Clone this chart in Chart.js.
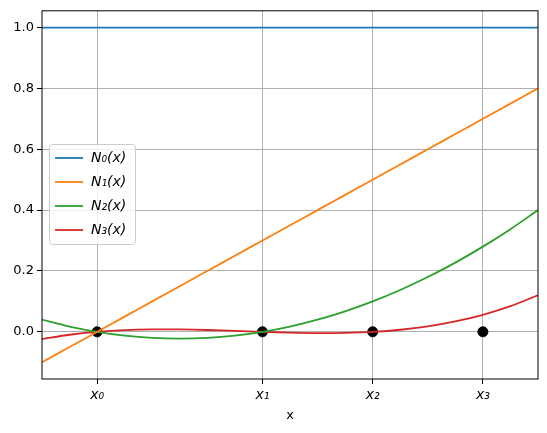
<!DOCTYPE html>
<html>
<head>
<script src="https://cdn.jsdelivr.net/npm/chart.js@4"></script>
<style>body{margin:0;background:#fff}#c{display:block}</style>
</head>
<body>
<canvas id="c" width="547" height="433"></canvas>
<script>
// Data
const xs = [-0.1,-0.05,0,0.05,0.1,0.15,0.2,0.25,0.3,0.35,0.4,0.45,0.5,0.55,0.6,0.65,0.7,0.75,0.8];
const n0 = [1,1,1,1,1,1,1,1,1,1,1,1,1,1,1,1,1,1,1];
const n1 = [-0.1,-0.05,0,0.05,0.1,0.15,0.2,0.25,0.3,0.35,0.4,0.45,0.5,0.55,0.6,0.65,0.7,0.75,0.8];
const n2 = [0.04,0.0175,0,-0.0125,-0.02,-0.0225,-0.02,-0.0125,0,0.0175,0.04,0.0675,0.1,0.1375,0.18,0.2275,0.28,0.3375,0.4];
const n3 = [-0.024,-0.009625,0,0.005625,0.008,0.007875,0.006,0.003125,0,-0.002625,-0.004,-0.003375,0,0.006875,0.018,0.034125,0.056,0.084375,0.12];
const nodes = [0, 0.3, 0.5, 0.7];
const nodeLabels = ['x₀', 'x₁', 'x₂', 'x₃'];
const seriesNames = ['N₀(x)', 'N₁(x)', 'N₂(x)', 'N₃(x)'];
const colors = ['#1f77b4', '#ff7f0e', '#2ca02c', '#d62728'];

const pts = arr => arr.map((y, i) => ({x: xs[i], y: y}));
const series = [n0, n1, n2, n3];

const datasets = series.map((s, i) => ({
    label: seriesNames[i], data: pts(s), borderColor: colors[i], borderWidth: 1.8,
    pointRadius: 0, tension: 0.3, fill: false
}));
datasets.push({
    label: 'nodes', data: nodes.map(x => ({x: x, y: 0})), showLine: false,
    pointRadius: 5, pointBackgroundColor: '#000', pointBorderColor: '#000'
});

// Legend drawn inside plot area
const boxLegend = {
    id: 'boxLegend',
    afterDraw(chart) {
        const ctx = chart.ctx;
        const x = 49, y = 144, w = 86, h = 100;
        ctx.save();
        ctx.fillStyle = 'rgba(255,255,255,0.8)';
        ctx.strokeStyle = '#ccc';
        ctx.lineWidth = 1;
        ctx.beginPath();
        ctx.roundRect(x + 0.5, y + 0.5, w, h, 3);
        ctx.fill(); ctx.stroke();
        seriesNames.forEach((name, i) => {
            const ly = y + 14 + i * 24;
            ctx.strokeStyle = colors[i];
            ctx.lineWidth = 1.8;
            ctx.beginPath(); ctx.moveTo(x + 6, ly); ctx.lineTo(x + 34, ly); ctx.stroke();
            ctx.fillStyle = '#000';
            ctx.font = 'italic 14px "DejaVu Sans"';
            ctx.textBaseline = 'middle';
            ctx.fillText(name, x + 42, ly);
        });
        ctx.restore();
    }
};

const frame = {
    id: 'frame',
    afterDraw(chart) {
        const a = chart.chartArea, ctx = chart.ctx;
        ctx.save(); ctx.strokeStyle = '#000'; ctx.lineWidth = 1;
        ctx.strokeRect(a.left, a.top, a.right - a.left, a.bottom - a.top);
        ctx.restore();
    }
};

new Chart(document.getElementById('c'), {
    type: 'line',
    data: {datasets: datasets},
    options: {
        responsive: false, animation: false,
        layout: {padding: {top: 10, right: 9, left: 0, bottom: 10}},
        plugins: {legend: {display: false}, tooltip: {enabled: false}},
        scales: {
            x: {
                type: 'linear', min: -0.1, max: 0.8,
                afterBuildTicks: s => { s.ticks = nodes.map(v => ({value: v})); },
                afterFit: s => { s.height = 44; },
                ticks: {
                    color: '#000', font: {size: 14, family: 'DejaVu Sans', style: 'italic'},
                    callback: (v) => nodeLabels[nodes.indexOf(v)] || ''
                },
                grid: {color: '#b0b0b0', tickLength: 5, tickColor: '#000'},
                border: {display: false},
                title: {display: true, text: 'x', color: '#000', font: {size: 13, family: 'DejaVu Sans'}, padding: 0}
            },
            y: {
                min: -0.155, max: 1.055,
                afterBuildTicks: s => { s.ticks = [0, 0.2, 0.4, 0.6, 0.8, 1.0].map(v => ({value: v})); },
                afterFit: s => { s.width = 42; },
                ticks: {color: '#000', font: {size: 13, family: 'DejaVu Sans'}, callback: v => v.toFixed(1)},
                grid: {color: '#b0b0b0', tickLength: 5, tickColor: '#000'},
                border: {display: false}
            }
        }
    },
    plugins: [frame, boxLegend]
});
</script>
</body>
</html>
